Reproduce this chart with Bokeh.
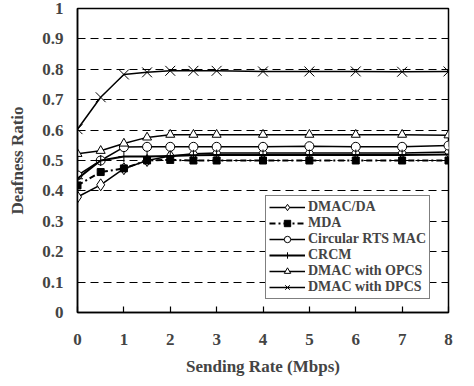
from bokeh.plotting import figure
from bokeh.models import FixedTicker, Legend, Range1d
from bokeh.embed import file_html
from bokeh.resources import INLINE

# Sending rate (Mbps) at which each protocol was measured
rate = [0, 0.5, 1, 1.5, 2, 2.5, 3, 4, 5, 6, 7, 8]

# Deafness ratio per protocol
dmac_da = [0.380, 0.420, 0.473, 0.500, 0.515, 0.522, 0.525, 0.525, 0.525, 0.525, 0.525, 0.528]
mda = [0.418, 0.462, 0.474, 0.500, 0.502, 0.500, 0.500, 0.500, 0.500, 0.500, 0.500, 0.500]
circular_rts = [0.451, 0.500, 0.544, 0.545, 0.545, 0.545, 0.545, 0.545, 0.547, 0.545, 0.545, 0.549]
crcm = [0.440, 0.500, 0.513, 0.513, 0.515, 0.517, 0.518, 0.518, 0.518, 0.518, 0.518, 0.520]
dmac_opcs = [0.522, 0.532, 0.556, 0.576, 0.585, 0.585, 0.585, 0.585, 0.585, 0.585, 0.585, 0.583]
dmac_dpcs = [0.603, 0.708, 0.783, 0.790, 0.795, 0.795, 0.795, 0.793, 0.793, 0.793, 0.792, 0.793]

series_names = ["DMAC/DA", "MDA", "Circular RTS MAC", "CRCM",
                "DMAC with OPCS", "DMAC with DPCS"]

x_ticks = [0, 1, 2, 3, 4, 5, 6, 7, 8]
y_ticks = [0, 0.1, 0.2, 0.3, 0.4, 0.5, 0.6, 0.7, 0.8, 0.9, 1]
y_tick_labels = ["0", "0.1", "0.2", "0.3", "0.4", "0.5", "0.6", "0.7", "0.8", "0.9", "1"]
grid_ticks = [0.1, 0.2, 0.3, 0.4, 0.5, 0.6, 0.7, 0.8, 0.9]

FONT = "Liberation Serif"

p = figure(width=474, height=386, output_backend="svg", toolbar_location=None,
           x_range=Range1d(0, 8), y_range=Range1d(0, 1))
p.min_border_left = 77
p.min_border_right = 26
p.min_border_top = 8
p.min_border_bottom = 74
p.outline_line_color = "black"
p.outline_line_width = 1.5
p.background_fill_color = "white"
p.border_fill_color = "white"

# axes
xa = p.xaxis[0]
xa.ticker = FixedTicker(ticks=x_ticks)
xa.major_tick_in = 6
xa.major_tick_out = 0
xa.minor_tick_line_color = None
xa.axis_line_width = 1.5
xa.major_tick_line_width = 1.2
xa.major_label_standoff = 21
xa.major_label_text_font = FONT
xa.major_label_text_font_style = "bold"
xa.major_label_text_font_size = "17px"
xa.axis_label = "Sending Rate (Mbps)"
xa.axis_label_text_font = FONT
xa.axis_label_text_font_style = "bold"
xa.axis_label_text_font_size = "17px"
xa.axis_label_standoff = 9

ya = p.yaxis[0]
ya.ticker = FixedTicker(ticks=y_ticks)
ya.major_label_overrides = {t: s for t, s in zip(y_ticks, y_tick_labels)}
ya.major_tick_line_color = None
ya.major_tick_in = 0
ya.major_tick_out = 0
ya.minor_tick_line_color = None
ya.axis_line_width = 1.5
ya.major_label_standoff = 14
ya.major_label_text_font = FONT
ya.major_label_text_font_style = "bold"
ya.major_label_text_font_size = "17px"
ya.axis_label = "Deafness Ratio"
ya.axis_label_text_font = FONT
ya.axis_label_text_font_style = "bold"
ya.axis_label_text_font_size = "17px"
ya.axis_label_standoff = 12

p.xgrid.grid_line_color = None
p.ygrid.ticker = FixedTicker(ticks=grid_ticks)
p.ygrid.grid_line_color = "black"
p.ygrid.grid_line_width = 1
p.ygrid.grid_line_dash = "8 5"

# series: (values, marker, marker size, filled, line dash, line width)
styles = [
    (dmac_da, "diamond", 12, False, "solid", 1.5),
    (mda, "square", 7, True, "6 3 2 3", 2),
    (circular_rts, "circle", 9, False, "solid", 1.5),
    (crcm, "cross", 11, False, "solid", 2),
    (dmac_opcs, "triangle", 9, False, "solid", 1.5),
    (dmac_dpcs, "x", 14, False, "solid", 1.5),
]

items = []
for name, (vals, marker, size, filled, dash, lw) in zip(series_names, styles):
    ln = p.line(rate, vals, line_color="black", line_width=lw, line_dash=dash)
    sc = p.scatter(rate, vals, marker=marker, size=size, line_color="black",
                   line_width=1, fill_color="black" if filled else "white")
    items.append((name, [ln, sc]))

legend = Legend(items=items, location=(188, 13))
legend.label_text_font = FONT
legend.label_text_font_style = "bold"
legend.label_text_font_size = "14px"
legend.label_height = 16
legend.glyph_height = 16
legend.glyph_width = 36
legend.label_standoff = 3
legend.spacing = 0
legend.padding = 3
legend.margin = 0
legend.border_line_color = "black"
legend.border_line_width = 1
legend.background_fill_color = "white"
legend.background_fill_alpha = 1
p.add_layout(legend, "center")

open("out.html", "w").write(file_html(p, INLINE))
